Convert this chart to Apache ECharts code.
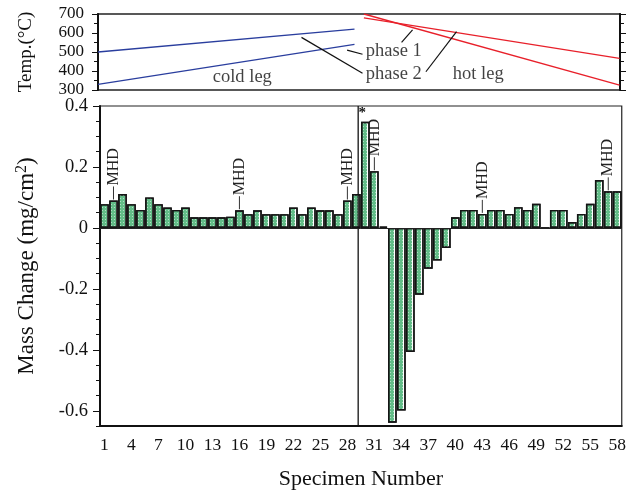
<!DOCTYPE html>
<html><head><meta charset="utf-8">
<script src="https://cdn.jsdelivr.net/npm/echarts@6/dist/echarts.min.js"></script>
<style>html,body{margin:0;padding:0;background:#fff}#c{width:629px;height:495px}</style>
</head><body><div id="c"></div>
<script>
// ---------- data ----------
const specimens = [];
for (let i = 1; i <= 58; i++) specimens.push(String(i));

const massChange = [
  0.078, 0.090, 0.111, 0.078, 0.059, 0.100, 0.078, 0.067, 0.059, 0.067,
  0.035, 0.035, 0.035, 0.035, 0.037, 0.058, 0.045, 0.058, 0.045, 0.045,
  0.045, 0.067, 0.045, 0.067, 0.058, 0.058, 0.045, 0.090, 0.111, 0.348,
  0.186, 0.004, -0.639, -0.599, -0.407, -0.219, -0.134, -0.107, -0.066, 0.035,
  0.059, 0.059, 0.046, 0.059, 0.059, 0.046, 0.068, 0.059, 0.079, 0.000,
  0.059, 0.059, 0.019, 0.046, 0.079, 0.157, 0.120, 0.120
];

const mhdSpecimens = [2, 16, 28, 31, 43, 57];
const starSpecimen = 30;
const dividerSpecimen = 29.2;

const yMajorTicks = [-0.6, -0.4, -0.2, 0, 0.2, 0.4];
const yMinorTicks = [-0.65, -0.6, -0.55, -0.5, -0.45, -0.4, -0.35, -0.3, -0.25, -0.2, -0.15, -0.1, -0.05,
  0, 0.05, 0.1, 0.15, 0.2, 0.25, 0.3, 0.35, 0.4];
const tempTicks = [300, 400, 500, 600, 700];

// temperature profiles (specimen position, °C)
const coldPhase1 = [[0.45, 330], [28.9, 540]];
const coldPhase2 = [[0.45, 500], [28.9, 620]];
const hotPhase1 = [[29.94, 700], [58.3, 326]];
const hotPhase2 = [[29.94, 680], [58.3, 467]];

// annotation leader lines in the temperature panel
const leaderLines = [
  [[28.08, 510], [29.79, 488]],
  [[34.12, 551], [35.34, 616]],
  [[23.02, 577], [29.79, 388]],
  [[36.82, 396], [40.22, 607]]
];
const panelTexts = [
  ['cold leg', 13.18, 368],
  ['phase 1', 30.16, 503],
  ['phase 2', 30.16, 386],
  ['hot leg', 39.8, 386]
];

// ---------- chart ----------
const FONT = "'Liberation Serif', 'Times New Roman', serif";
const chart = echarts.init(document.getElementById('c'), null, {renderer: 'canvas'});

const GREEN = '#63bd88';
const barFill = {
  type: 'linear', x: 0, y: 0, x2: 1, y2: 0,
  colorStops: [
    {offset: 0, color: GREEN}, {offset: 0.74, color: GREEN},
    {offset: 0.74, color: '#ffffff'}, {offset: 1, color: '#ffffff'}
  ]
};

const barData = massChange.map((v, i) => {
  const item = {value: v};
  if (i + 1 === starSpecimen) {
    item.label = {show: true, position: 'top', formatter: '*', offset: [-3, 4],
      fontSize: 15, fontFamily: FONT, color: '#111', fontWeight: 'bold'};
  }
  return item;
});

const textColor = '#111';

const option = {
  animation: false,
  backgroundColor: '#fff',
  aria: {enabled: true, decal: {show: true}},
  grid: [
    {left: 98, top: 14, width: 522, height: 76, show: true, borderColor: '#222', borderWidth: 1.5, backgroundColor: 'transparent'},
    {left: 100, top: 106, width: 522, height: 322, show: true, borderColor: '#222', borderWidth: 1.2, backgroundColor: 'transparent'}
  ],
  xAxis: [
    {gridIndex: 0, type: 'value', min: 0.45, max: 58.35, show: false},
    {gridIndex: 1, type: 'category', data: specimens, position: 'bottom',
      axisLine: {onZero: false, lineStyle: {color: '#111', width: 2}},
      axisTick: {alignWithLabel: true, interval: 0, length: 4, lineStyle: {color: '#111'}},
      axisLabel: {interval: 2, margin: 10, fontSize: 17.5, fontFamily: FONT, color: textColor},
      name: 'Specimen Number', nameLocation: 'middle', nameGap: 42,
      nameTextStyle: {fontSize: 22, fontFamily: FONT, color: textColor},
      splitLine: {show: false}},
    {gridIndex: 1, type: 'category', data: specimens, position: 'bottom',
      axisLine: {show: false, onZero: false},
      axisTick: {alignWithLabel: true, interval: 2, length: 7, lineStyle: {color: '#111'}},
      axisLabel: {show: false}, splitLine: {show: false}},
    {gridIndex: 1, type: 'value', min: 0.5, max: 58.5, show: false}
  ],
  yAxis: [
    {gridIndex: 0, type: 'value', min: 300, max: 700, interval: 100, position: 'left',
      axisLine: {show: true, lineStyle: {color: '#111', width: 2}},
      axisTick: {show: true, length: 6, lineStyle: {color: '#111'}},
      minorTick: {show: true, splitNumber: 2, length: 4, lineStyle: {color: '#111'}},
      axisLabel: {margin: 14, fontSize: 17, fontFamily: FONT, color: textColor},
      splitLine: {show: false},
      name: 'Temp.(°C)', nameLocation: 'middle', nameGap: 62,
      nameTextStyle: {fontSize: 19, fontFamily: FONT, color: textColor}},
    {gridIndex: 0, type: 'value', min: 300, max: 700, interval: 100, position: 'right',
      axisLine: {show: true, lineStyle: {color: '#111', width: 2}},
      axisTick: {show: true, length: 6, lineStyle: {color: '#111'}},
      minorTick: {show: true, splitNumber: 2, length: 4, lineStyle: {color: '#111'}},
      axisLabel: {show: false}, splitLine: {show: false}},
    {gridIndex: 1, type: 'value', min: -0.65, max: 0.4, position: 'left',
      axisLine: {show: true, onZero: false, lineStyle: {color: '#111', width: 2}},
      axisTick: {show: true, customValues: yMajorTicks, length: 7, lineStyle: {color: '#111'}},
      axisLabel: {customValues: yMajorTicks, margin: 12, fontSize: 18.5, fontFamily: FONT, color: textColor,
        formatter: v => String(Math.round(v * 10) / 10)},
      splitLine: {show: false},
      name: 'Mass Change (mg/cm{sup|2})', nameLocation: 'middle', nameGap: 60,
      nameTextStyle: {fontSize: 23, fontFamily: FONT, color: textColor,
        rich: {sup: {fontSize: 16, fontFamily: FONT, color: textColor, verticalAlign: 'top', padding: [0, 0, 10, 0]}}}},
    {gridIndex: 1, type: 'value', min: -0.65, max: 0.4, position: 'left',
      axisLine: {show: false, onZero: false},
      axisTick: {show: true, customValues: yMinorTicks, length: 4, lineStyle: {color: '#111'}},
      axisLabel: {show: false}, splitLine: {show: false}}
  ],
  series: [
    // temperature panel
    {type: 'line', xAxisIndex: 0, yAxisIndex: 0, data: coldPhase1, symbol: 'none', lineStyle: {color: '#2a3e9e', width: 1.3}},
    {type: 'line', xAxisIndex: 0, yAxisIndex: 0, data: coldPhase2, symbol: 'none', lineStyle: {color: '#2a3e9e', width: 1.3}},
    {type: 'line', xAxisIndex: 0, yAxisIndex: 0, data: hotPhase1, symbol: 'none', lineStyle: {color: '#e8202a', width: 1.3}},
    {type: 'line', xAxisIndex: 0, yAxisIndex: 0, data: hotPhase2, symbol: 'none', lineStyle: {color: '#e8202a', width: 1.3}},
    ...leaderLines.map(seg => ({type: 'line', xAxisIndex: 0, yAxisIndex: 0, data: seg, symbol: 'none',
      lineStyle: {color: '#111', width: 1.2}, silent: true})),
    {type: 'scatter', xAxisIndex: 0, yAxisIndex: 0, symbolSize: 0, silent: true,
      data: panelTexts.map(t => ({value: [t[1], t[2]], name: t[0]})),
      label: {show: true, position: 'right', distance: 0, formatter: p => p.name,
        fontSize: 18.5, fontFamily: FONT, color: textColor}},
    // mass change bars
    {type: 'bar', xAxisIndex: 1, yAxisIndex: 2, data: barData, barCategoryGap: '4%',
      itemStyle: {color: barFill, borderColor: '#151515', borderWidth: 1.4,
        decal: {symbol: 'rect', symbolSize: 1, dashArrayX: [1, 2], dashArrayY: [1, 2],
          color: 'rgba(255,255,255,0.5)', rotation: 0}},
      markLine: {silent: true, symbol: 'none', label: {show: false},
        lineStyle: {color: '#222', width: 1, type: 'solid'}, data: [{yAxis: 0}]}},
    // divider line
    {type: 'line', xAxisIndex: 3, yAxisIndex: 2, symbol: 'none', silent: true,
      data: [[dividerSpecimen, 0.4], [dividerSpecimen, -0.65]], lineStyle: {color: '#111', width: 1.3}},
    // MHD annotations
    {type: 'custom', xAxisIndex: 1, yAxisIndex: 2, silent: true,
      data: mhdSpecimens.map(s => [s - 1, massChange[s - 1]]),
      renderItem: function (params, api) {
        const p = api.coord([api.value(0), api.value(1)]);
        return {type: 'group', children: [
          {type: 'line', shape: {x1: p[0], y1: p[1] - 1, x2: p[0], y2: p[1] - 14},
            style: {stroke: '#333', lineWidth: 1}},
          {type: 'text', x: p[0], y: p[1] - 15, rotation: Math.PI / 2,
            style: {text: 'MHD', fontSize: 16, fontFamily: FONT, fill: '#222',
              align: 'left', verticalAlign: 'middle'}}
        ]};
      }}
  ]
};
chart.setOption(option);
</script>
</body></html>
